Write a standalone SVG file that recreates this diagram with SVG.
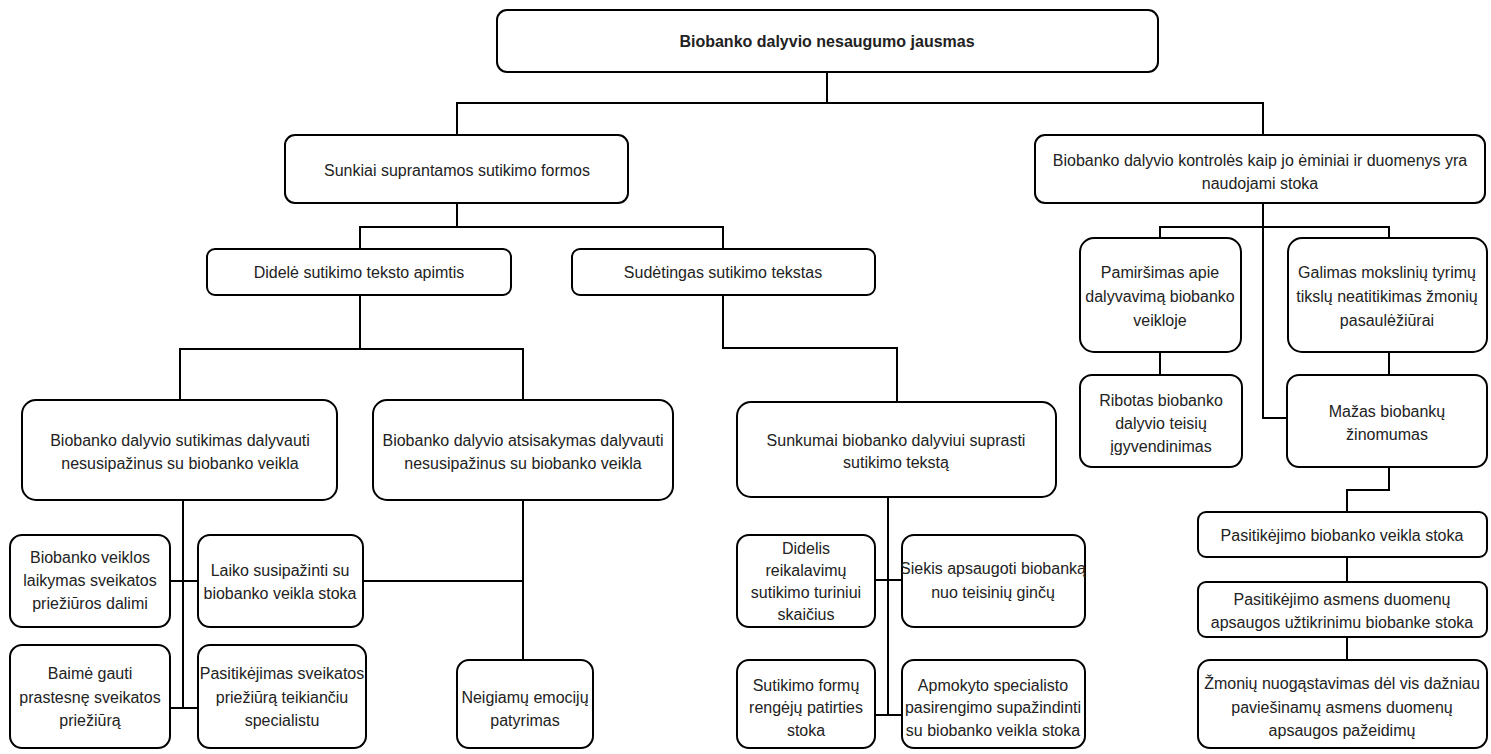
<svg xmlns="http://www.w3.org/2000/svg" width="1491" height="754" viewBox="0 0 1491 754">
  <style>
    .box { fill: #ffffff; stroke: #000000; stroke-width: 2; }
    .wire { fill: none; stroke: #000000; stroke-width: 2; }
    .lbl { font-family: "Liberation Sans", Arial, Helvetica, sans-serif; font-size: 16px; fill: #222222; text-anchor: middle; }
    .title { font-weight: bold; }
  </style>
  <rect width="1491" height="754" fill="#ffffff"/>

  <!-- connectors -->
  <g id="connectors">
    <path class="wire" d="M827,72 V103"/>
    <path class="wire" d="M457,135 V103 H1263 V135"/>
    <path class="wire" d="M457,203 V227"/>
    <path class="wire" d="M360,249 V227 H723 V249"/>
    <path class="wire" d="M360,295 V349"/>
    <path class="wire" d="M180,400 V349 H523 V400"/>
    <path class="wire" d="M723,295 V348 H897 V402"/>
    <path class="wire" d="M183,500 V708"/>
    <path class="wire" d="M170,581 H198"/>
    <path class="wire" d="M170,708 H198"/>
    <path class="wire" d="M363,581 H523"/>
    <path class="wire" d="M523,500 V660"/>
    <path class="wire" d="M888,497 V715"/>
    <path class="wire" d="M875,580 H902"/>
    <path class="wire" d="M875,715 H902"/>
    <path class="wire" d="M1263,203 V418 H1287"/>
    <path class="wire" d="M1160,238 V227 H1389 V238"/>
    <path class="wire" d="M1160,352 V375"/>
    <path class="wire" d="M1389,352 V375"/>
    <path class="wire" d="M1389,467 V490 H1347 V512"/>
    <path class="wire" d="M1347,557 V582"/>
    <path class="wire" d="M1347,637 V660"/>
  </g>

  <!-- root -->
  <g id="n-root">
    <rect class="box" x="497" y="10" width="661" height="62" rx="10"/>
    <text class="lbl title" x="827" y="47">Biobanko dalyvio nesaugumo jausmas</text>
  </g>

  <!-- left branch -->
  <g id="n-sunkiai">
    <rect class="box" x="285" y="135" width="343" height="68" rx="10"/>
    <text class="lbl" x="457" y="176">Sunkiai suprantamos sutikimo formos</text>
  </g>
  <g id="n-didele">
    <rect class="box" x="207" y="249" width="304" height="46" rx="8"/>
    <text class="lbl" x="359" y="278">Didelė sutikimo teksto apimtis</text>
  </g>
  <g id="n-sudetingas">
    <rect class="box" x="572" y="249" width="303" height="46" rx="8"/>
    <text class="lbl" x="723" y="278">Sudėtingas sutikimo tekstas</text>
  </g>
  <g id="n-sutikimas">
    <rect class="box" x="22" y="400" width="315" height="100" rx="14"/>
    <text class="lbl" x="180" y="446">Biobanko dalyvio sutikimas dalyvauti</text>
    <text class="lbl" x="180" y="469">nesusipažinus su biobanko veikla</text>
  </g>
  <g id="n-atsisakymas">
    <rect class="box" x="373" y="400" width="300" height="100" rx="14"/>
    <text class="lbl" x="523" y="446">Biobanko dalyvio atsisakymas dalyvauti</text>
    <text class="lbl" x="523" y="469">nesusipažinus su biobanko veikla</text>
  </g>
  <g id="n-sunkumai">
    <rect class="box" x="737" y="402" width="319" height="95" rx="14"/>
    <text class="lbl" x="896" y="446">Sunkumai biobanko dalyviui suprasti</text>
    <text class="lbl" x="896" y="468">sutikimo tekstą</text>
  </g>
  <g id="n-veiklos">
    <rect class="box" x="10" y="535" width="160" height="92" rx="12"/>
    <text class="lbl" x="90" y="563">Biobanko veiklos</text>
    <text class="lbl" x="90" y="586">laikymas sveikatos</text>
    <text class="lbl" x="90" y="609">priežiūros dalimi</text>
  </g>
  <g id="n-laiko">
    <rect class="box" x="198" y="535" width="165" height="92" rx="12"/>
    <text class="lbl" x="280" y="576">Laiko susipažinti su</text>
    <text class="lbl" x="280" y="599">biobanko veikla stoka</text>
  </g>
  <g id="n-baime">
    <rect class="box" x="10" y="645" width="160" height="103" rx="12"/>
    <text class="lbl" x="90" y="679">Baimė gauti</text>
    <text class="lbl" x="90" y="703">prastesnę sveikatos</text>
    <text class="lbl" x="90" y="726">priežiūrą</text>
  </g>
  <g id="n-pasitikejimas">
    <rect class="box" x="198" y="645" width="168" height="103" rx="12"/>
    <text class="lbl" x="282" y="679">Pasitikėjimas sveikatos</text>
    <text class="lbl" x="282" y="703">priežiūrą teikiančiu</text>
    <text class="lbl" x="282" y="726">specialistu</text>
  </g>
  <g id="n-neigiamu">
    <rect class="box" x="457" y="660" width="136" height="88" rx="12"/>
    <text class="lbl" x="525" y="703">Neigiamų emocijų</text>
    <text class="lbl" x="525" y="726">patyrimas</text>
  </g>
  <g id="n-reikalavimu">
    <rect class="box" x="737" y="535" width="138" height="92" rx="12"/>
    <text class="lbl" x="806" y="554">Didelis</text>
    <text class="lbl" x="806" y="576">reikalavimų</text>
    <text class="lbl" x="806" y="598">sutikimo turiniui</text>
    <text class="lbl" x="806" y="620">skaičius</text>
  </g>
  <g id="n-siekis">
    <rect class="box" x="902" y="535" width="183" height="92" rx="12"/>
    <text class="lbl" x="993" y="574">Siekis apsaugoti biobanką</text>
    <text class="lbl" x="993" y="598">nuo teisinių ginčų</text>
  </g>
  <g id="n-formu">
    <rect class="box" x="737" y="660" width="138" height="88" rx="12"/>
    <text class="lbl" x="806" y="691">Sutikimo formų</text>
    <text class="lbl" x="806" y="713">rengėjų patirties</text>
    <text class="lbl" x="806" y="736">stoka</text>
  </g>
  <g id="n-apmokyto">
    <rect class="box" x="902" y="660" width="183" height="88" rx="12"/>
    <text class="lbl" x="993" y="691">Apmokyto specialisto</text>
    <text class="lbl" x="993" y="713">pasirengimo supažindinti</text>
    <text class="lbl" x="993" y="736">su biobanko veikla stoka</text>
  </g>

  <!-- right branch -->
  <g id="n-kontroles">
    <rect class="box" x="1035" y="135" width="450" height="68" rx="10"/>
    <text class="lbl" x="1260" y="166">Biobanko dalyvio kontrolės kaip jo ėminiai ir duomenys yra</text>
    <text class="lbl" x="1260" y="189">naudojami stoka</text>
  </g>
  <g id="n-pamirsimas">
    <rect class="box" x="1080" y="238" width="161" height="114" rx="14"/>
    <text class="lbl" x="1160" y="278">Pamiršimas apie</text>
    <text class="lbl" x="1160" y="302">dalyvavimą biobanko</text>
    <text class="lbl" x="1160" y="326">veikloje</text>
  </g>
  <g id="n-galimas">
    <rect class="box" x="1288" y="238" width="199" height="114" rx="14"/>
    <text class="lbl" x="1387" y="278">Galimas mokslinių tyrimų</text>
    <text class="lbl" x="1387" y="302">tikslų neatitikimas žmonių</text>
    <text class="lbl" x="1387" y="326">pasaulėžiūrai</text>
  </g>
  <g id="n-ribotas">
    <rect class="box" x="1080" y="375" width="162" height="92" rx="12"/>
    <text class="lbl" x="1161" y="406">Ribotas biobanko</text>
    <text class="lbl" x="1161" y="429">dalyvio teisių</text>
    <text class="lbl" x="1161" y="452">įgyvendinimas</text>
  </g>
  <g id="n-mazas">
    <rect class="box" x="1287" y="375" width="200" height="92" rx="12"/>
    <text class="lbl" x="1387" y="417">Mažas biobankų</text>
    <text class="lbl" x="1387" y="440">žinomumas</text>
  </g>
  <g id="n-pasitikejimo-veikla">
    <rect class="box" x="1198" y="512" width="289" height="45" rx="8"/>
    <text class="lbl" x="1342" y="541">Pasitikėjimo biobanko veikla stoka</text>
  </g>
  <g id="n-pasitikejimo-duomenu">
    <rect class="box" x="1198" y="582" width="289" height="55" rx="8"/>
    <text class="lbl" x="1342" y="605">Pasitikėjimo asmens duomenų</text>
    <text class="lbl" x="1342" y="628">apsaugos užtikrinimu biobanke stoka</text>
  </g>
  <g id="n-zmoniu">
    <rect class="box" x="1198" y="660" width="289" height="88" rx="12"/>
    <text class="lbl" x="1342" y="689">Žmonių nuogąstavimas dėl vis dažniau</text>
    <text class="lbl" x="1342" y="713">paviešinamų asmens duomenų</text>
    <text class="lbl" x="1342" y="736">apsaugos pažeidimų</text>
  </g>
</svg>
